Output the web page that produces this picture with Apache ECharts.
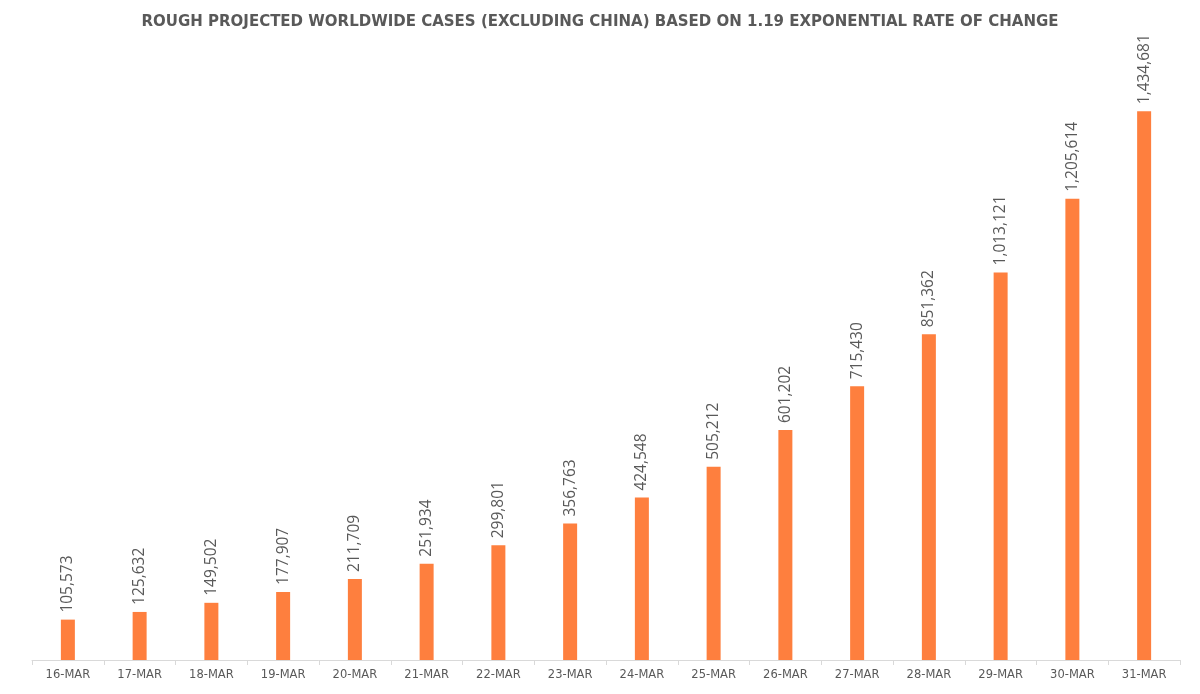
<!DOCTYPE html>
<html><head><meta charset="utf-8">
<script src="https://cdn.jsdelivr.net/npm/echarts@6/dist/echarts.min.js"></script>
<style>html,body{margin:0;padding:0;background:#fff}#c{width:1200px;height:694px}</style>
</head><body><div id="c"></div>
<script>
const categories = ['16-MAR','17-MAR','18-MAR','19-MAR','20-MAR','21-MAR','22-MAR','23-MAR','24-MAR','25-MAR','26-MAR','27-MAR','28-MAR','29-MAR','30-MAR','31-MAR'];
const cases = [105573,125632,149502,177907,211709,251934,299801,356763,424548,505212,601202,715430,851362,1013121,1205614,1434681];
const titleText = 'ROUGH PROJECTED WORLDWIDE CASES (EXCLUDING CHINA) BASED ON 1.19 EXPONENTIAL RATE OF CHANGE';

const chart = echarts.init(document.getElementById('c'));
chart.setOption({
  animation: false,
  title: {
    text: titleText,
    left: 'center', top: 10,
    textStyle: { fontFamily: 'DejaVu Sans', fontWeight: 'bold', fontSize: 15, color: '#595959' }
  },
  grid: { left: 32, right: 20, top: 48, bottom: 34 },
  xAxis: {
    type: 'category', data: categories,
    axisLine: { lineStyle: { color: '#d9d9d9', width: 1 } },
    axisTick: { show: true, alignWithLabel: false, length: 5, lineStyle: { color: '#d9d9d9' } },
    axisLabel: { color: '#595959', fontSize: 11.5, fontFamily: 'DejaVu Sans', margin: 9 }
  },
  yAxis: {
    type: 'value', min: 0, max: 1600000, show: false, splitLine: { show: false }
  },
  series: [{
    type: 'bar', data: cases, barWidth: 14,
    itemStyle: { color: '#fe7f3e' },
    label: {
      show: true, position: 'top', rotate: 90, align: 'left', verticalAlign: 'middle', distance: 7,
      color: '#595959', fontSize: 15.5, fontFamily: 'Open Sans',
      formatter: p => p.value.toLocaleString('en-US')
    }
  }]
});
</script></body></html>
